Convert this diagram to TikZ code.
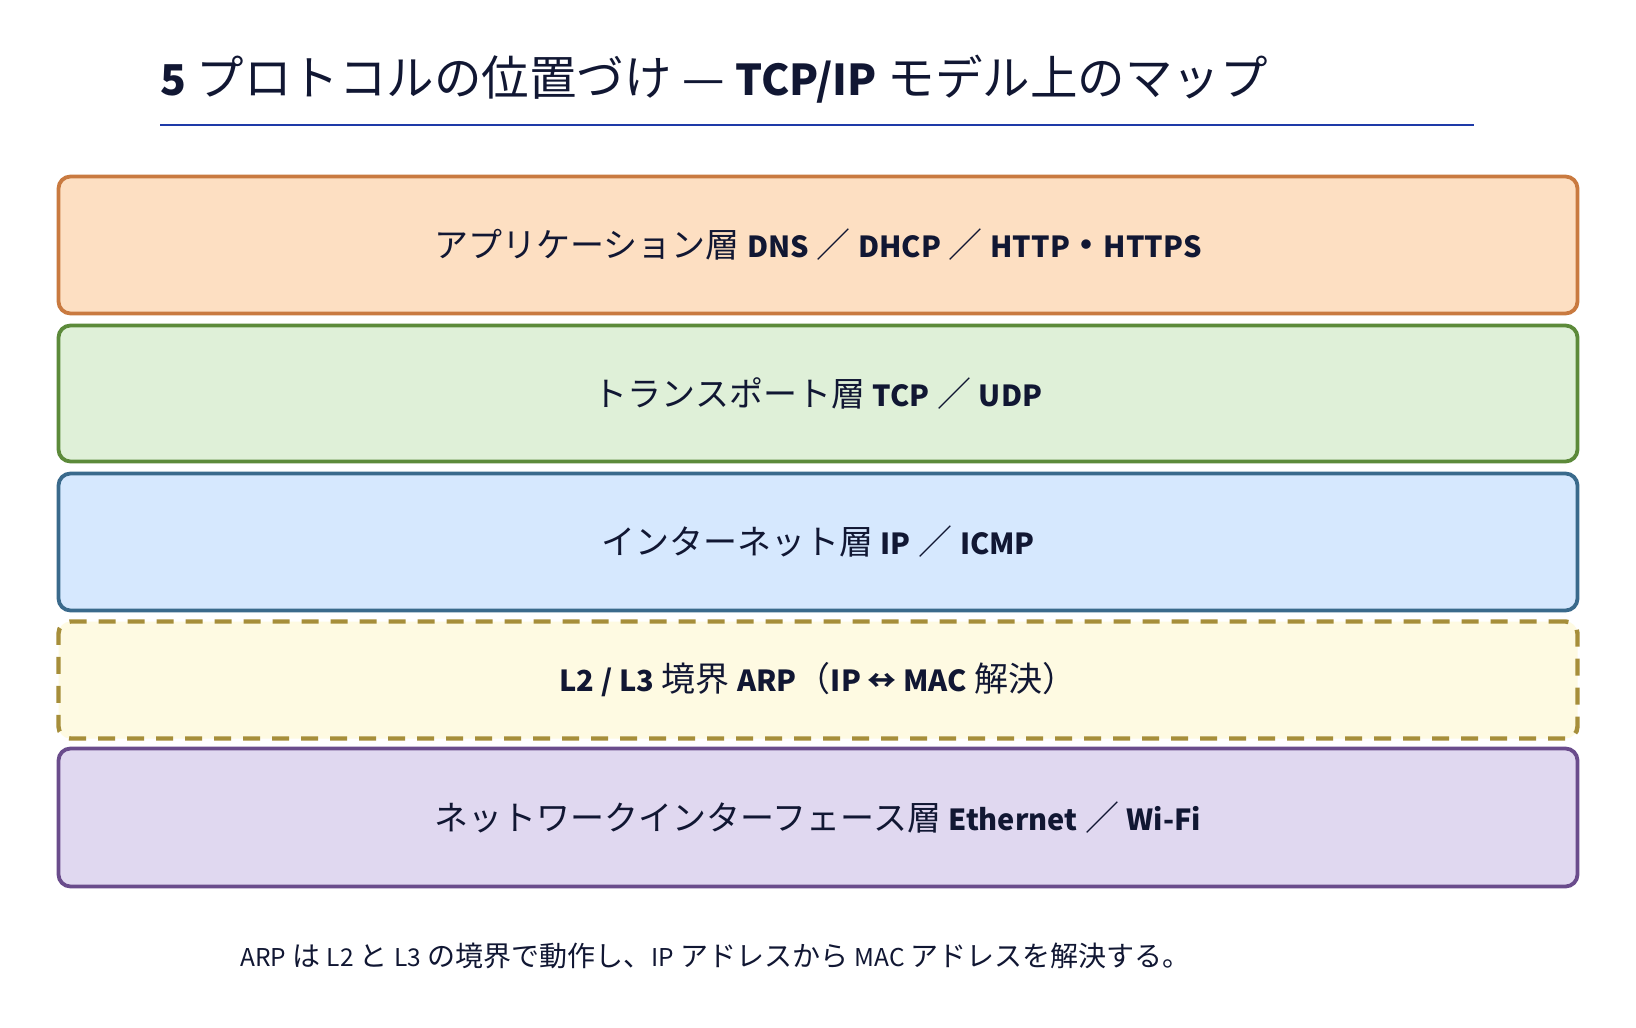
\documentclass[tikz,border=0pt]{standalone}
\usepackage{fontspec}
\setmainfont{Noto Sans CJK JP}
\definecolor{ink}{HTML}{111733}
\definecolor{rule}{HTML}{1E3AA8}
\definecolor{fA}{HTML}{FDDFC2}\definecolor{dA}{HTML}{C97A40}
\definecolor{fB}{HTML}{DFF0D8}\definecolor{dB}{HTML}{5C8A3A}
\definecolor{fC}{HTML}{D6E8FE}\definecolor{dC}{HTML}{3A6A8C}
\definecolor{fD}{HTML}{FEFAE2}\definecolor{dD}{HTML}{A68E3A}
\definecolor{fE}{HTML}{E0D8F0}\definecolor{dE}{HTML}{6A4C8C}
\newcommand\latsize{28}
\newcommand\Lt[1]{{\fontsize{\latsize}{\latsize}\selectfont #1}}
\newcommand\LB[1]{{\fontsize{\latsize}{\latsize}\selectfont\bfseries #1}}
\begin{document}
\begin{tikzpicture}[x=1pt,y=-1pt,
  layerbox/.style={rounded corners=12pt, line width=3.8pt, minimum width=1519pt,
    inner sep=0pt, text=ink, font=\renewcommand\latsize{29}\fontsize{34}{40}\selectfont},
  titletext/.style={inner sep=0pt, anchor=base west, text=ink,
    font=\renewcommand\latsize{42.5}\fontsize{47.5}{54}\selectfont},
  notetext/.style={inner sep=0pt, anchor=base west, text=ink,
    font=\renewcommand\latsize{24.5}\fontsize{28}{32}\selectfont}]
\useasboundingbox[fill=white] (0,0) rectangle (1636,1028);
\node[titletext] (title) at (160,95) {\LB{5} プロトコルの位置づけ — \LB{TCP/IP} モデル上のマップ};
\coordinate (ruleL) at (160,125);
\coordinate (ruleR) at (1474,125);
\draw[rule, line width=2.5pt] (ruleL) -- (ruleR);
\node[layerbox, draw=dA, fill=fA, minimum height=137pt] (app) at (818,245)
  {アプリケーション層 \LB{DNS} ／ \LB{DHCP} ／ \LB{HTTP}\textbf{・}\LB{HTTPS}};
\node[layerbox, draw=dB, fill=fB, minimum height=136pt] (trans) at (818,393.5)
  {トランスポート層 \LB{TCP} ／ \LB{UDP}};
\node[layerbox, draw=dC, fill=fC, minimum height=137pt] (inet) at (818,542)
  {インターネット層 \LB{IP} ／ \LB{ICMP}};
\node[layerbox, draw=dD, fill=fD, minimum height=117pt, line width=4.4pt, dash pattern=on 17pt off 12pt] (arp) at (818,680)
  {\LB{L2 / L3} 境界 \LB{ARP}（\LB{IP ↔ MAC} 解決）};
\node[layerbox, draw=dE, fill=fE, minimum height=138pt] (link) at (818,817.5)
  {ネットワークインターフェース層 \LB{Ethernet} ／ \LB{Wi-Fi}};
\node[notetext] (note) at (240,966) {\Lt{ARP} は \Lt{L2} と \Lt{L3} の境界で動作し、\Lt{IP} アドレスから \Lt{MAC} アドレスを解決する。};
\end{tikzpicture}
\end{document}
